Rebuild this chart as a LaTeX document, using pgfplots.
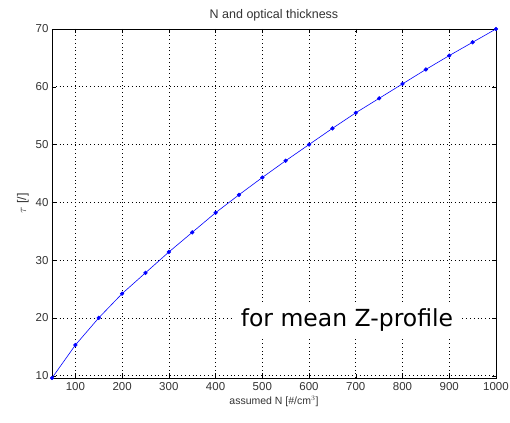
\documentclass[border=0pt]{standalone}
\usepackage{pgfplots}
\pgfplotsset{compat=1.18}
\usepackage{fontspec}
\setmainfont{Liberation Sans}
\newfontfamily\notefont{DejaVu Sans}

\begin{document}
\begin{tikzpicture}
  \path[use as bounding box] (-52pt,-44pt) rectangle (458pt,378pt);
  \begin{axis}[
      at={(0pt,0pt)}, anchor=south west,
      scale only axis,
      width=444pt, height=349pt,
      xmin=50, xmax=1000, ymin=9.6, ymax=70,
      xtick={100,200,...,1000},
      ytick={10,20,...,70},
      tick align=inside,
      major tick length=4pt,
      grid=major,
      major grid style={black, dash pattern=on 0.8pt off 3pt, line width=0.6pt},
      axis line style={black, line width=0.6pt},
      tick style={black},
      ticklabel style={font=\fontsize{11.5}{12}\selectfont, text=black!80},
      /pgf/number format/assume math mode=true,
      /pgf/number format/set thousands separator={},
      scaled ticks=false,
      xticklabel style={yshift=-1pt},
      title={N and optical thickness},
      title style={font=\fontsize{12.5}{14}\selectfont, text=black!80, yshift=-2pt},
      xlabel={assumed N [\#/cm$^3$]},
      ylabel={$\tau$ [/]},
      xlabel style={font=\fontsize{10.5}{12}\selectfont, text=black!80, yshift=2pt},
      ylabel style={font=\fontsize{12.5}{14}\selectfont, text=black!80, yshift=0pt},
    ]
    \addplot[blue, line width=0.6pt, mark=*, mark size=1.8pt] coordinates {
      (50,9.6) (100,15.3) (150,20.0) (200,24.2) (250,27.8)
      (300,31.4) (350,34.8) (400,38.2) (450,41.3) (500,44.3)
      (550,47.2) (600,50.0) (650,52.8) (700,55.5) (750,58.0)
      (800,60.5) (850,63.0) (900,65.4) (950,67.7) (1000,70.0)
    };
    \node[font=\notefont\fontsize{23.5}{28}\selectfont, fill=white, inner xsep=8pt, inner ysep=4pt] at (axis cs:681,19.6) {for mean Z-profile};
  \end{axis}
\end{tikzpicture}
\end{document}
